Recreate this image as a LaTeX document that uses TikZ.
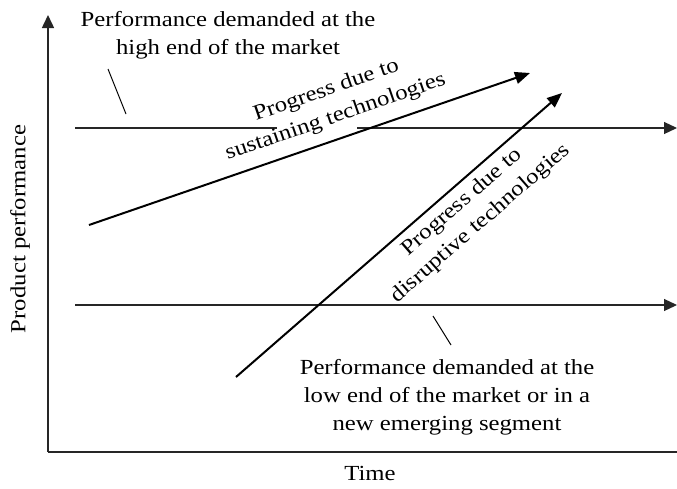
\documentclass[tikz,border=0pt]{standalone}
\usepackage{fontspec}
\setmainfont{Liberation Serif}[FakeStretch=1.15]
\usetikzlibrary{arrows.meta}
\begin{document}
\begin{tikzpicture}[x=1pt,y=-1pt,
  lbl/.style={font=\fontsize{21.5}{28}\selectfont, align=center, inner sep=2pt},
  axisline/.style={line width=1.5pt, draw=black!85, -{Triangle[length=13pt,width=12pt]}},
  levelline/.style={line width=1.2pt, draw=black!85},
  levelarrow/.style={levelline, -{Triangle[length=13pt,width=12pt]}},
  progarrow/.style={line width=2pt, -{Triangle[length=15pt,width=12pt]}},
  leader/.style={line width=1pt}]
\path[use as bounding box] (0,0) rectangle (677,488);
\clip (0,0) rectangle (677,488);
% axes
\coordinate (O) at (48,452);
\coordinate (Ytop) at (48,15);
\coordinate (Xend) at (690,452);
\draw[axisline] (O) -- (Ytop);
\draw[axisline] (O) -- (Xend);
% demand levels
\coordinate (HiA) at (75,128);
\coordinate (HiB) at (277,128);
\coordinate (HiC) at (357,128);
\coordinate (HiD) at (677,128);
\draw[levelline] (HiA) -- (HiB);
\draw[levelarrow] (HiC) -- (HiD);
\coordinate (LoA) at (75,305);
\coordinate (LoD) at (677,305);
\draw[levelarrow] (LoA) -- (LoD);
% progress arrows
\coordinate (SusA) at (89,225);
\coordinate (SusB) at (530,73);
\draw[progarrow] (SusA) -- (SusB);
\coordinate (DisA) at (236,377);
\coordinate (DisB) at (562,93);
\draw[progarrow] (DisA) -- (DisB);
% labels
\node[lbl] (hitext) at (228,35) {Performance demanded at the\\high end of the market};
\node[lbl] (lotext) at (447,397) {Performance demanded at the\\low end of the market or in a\\new emerging segment};
\node[lbl] (timelbl) at (370,473) {Time};
\node[lbl, rotate=90] (ylbl) at (20,229) {Product performance};
\node[lbl, rotate=19.1] (suslbl) at (331,104) {Progress due to\\sustaining technologies};
\node[lbl, rotate=41.1] (dislbl) at (471.5,213) {Progress due to\\disruptive technologies};
% leaders
\coordinate (LeadHiA) at (108,69);
\coordinate (LeadHiB) at (126,114);
\draw[leader] (LeadHiA) -- (LeadHiB);
\coordinate (LeadLoA) at (433,316);
\coordinate (LeadLoB) at (451,345);
\draw[leader] (LeadLoA) -- (LeadLoB);
\end{tikzpicture}
\end{document}
